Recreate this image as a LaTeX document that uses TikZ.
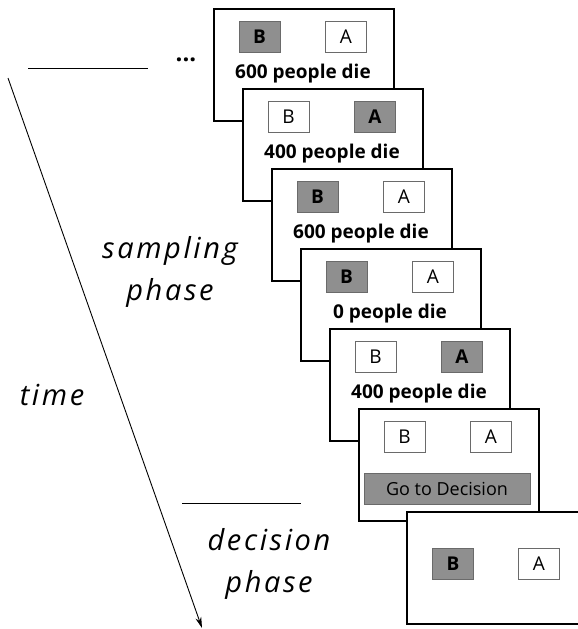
\documentclass[tikz,border=0pt]{standalone}
\usepackage{fontspec}
\setmainfont{Open Sans}
\newfontfamily\phasefont{Open Sans}[LetterSpace=9]
\usepackage{tikz}
\usetikzlibrary{arrows.meta}
\definecolor{boxgray}{HTML}{8F8F8F}
\definecolor{edgegray}{HTML}{6A6A6A}

\begin{document}
\begin{tikzpicture}[
    x=1pt, y=-1pt,
    screen node/.style={rectangle, draw, line width=1.6pt, fill=white, anchor=north west,
      minimum width=180pt, minimum height=112pt, inner sep=0pt},
    pick node/.style={rectangle, draw=edgegray, line width=0.9pt, fill=boxgray,
      minimum width=41pt, minimum height=31pt, inner sep=0pt, font=\fontsize{19}{22}\selectfont\bfseries},
    idle node/.style={pick node, fill=white, font=\fontsize{19}{22}\selectfont},
    outcome node/.style={anchor=base, inner sep=0pt, font=\fontsize{19}{22}\selectfont\bfseries},
    phase node/.style={align=center, inner sep=0pt, font=\fontsize{29}{42}\selectfont\phasefont\itshape}
  ]
  \useasboundingbox (0,0) rectangle (578,629);
  % sampling screens, one shifted copy per draw
  \foreach \i/\lb/\la/\txt in {1/pick/idle/600 people die, 2/idle/pick/400 people die,
      3/pick/idle/600 people die, 4/pick/idle/0 people die, 5/idle/pick/400 people die} {
    \node[screen node] (s\i) at ({213+29*(\i-1)},{8+80*(\i-1)}) {};
    \node[\lb\space node] (b\i) at ([shift={(46.5,28.5)}]s\i.north west) {B};
    \node[\la\space node] (a\i) at ([shift={(133,28.5)}]s\i.north west) {A};
    \node[outcome node] (o\i) at ([shift={(90,70)}]s\i.north west) {\txt};
  }
  \node[screen node] (s6) at (358,408) {};
  \node[idle node] (b6) at ([shift={(46.5,28.5)}]s6.north west) {B};
  \node[idle node] (a6) at ([shift={(133,28.5)}]s6.north west) {A};
  \node[pick node, minimum width=166pt, font=\fontsize{18}{20}\selectfont] (go) at ([shift={(89,80.5)}]s6.north west) {Go to Decision};
  % decision screen
  \node[screen node] (s7) at (406,511) {};
  \node[pick node] (b7) at ([shift={(47,52.5)}]s7.north west) {B};
  \node[idle node] (a7) at ([shift={(133,52.5)}]s7.north west) {A};

  % time axis and phase marks
  \coordinate (start) at (8,78);
  \coordinate (end) at (202,628);
  \draw[line width=0.9pt, -{Stealth[length=11pt, width=6pt]}] (start) -- (end);
  \coordinate (m1) at (28,68);
  \coordinate (m2) at (148,68);
  \draw[line width=0.9pt] (m1) -- (m2);
  \node[font=\fontsize{24}{24}\selectfont\bfseries] (dots) at (186,60) {...};
  \coordinate (m3) at (182,503);
  \coordinate (m4) at (301,503);
  \draw[line width=0.9pt] (m3) -- (m4);
  \node[phase node] (sampling) at (170,272) {sampling\\phase};
  \node[phase node] (time) at (52,395) {time};
  \node[phase node] (decision) at (269,564) {decision\\phase};
\end{tikzpicture}
\end{document}
